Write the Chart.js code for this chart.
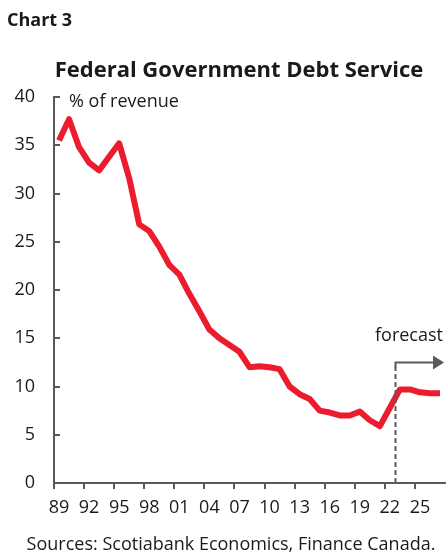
<!DOCTYPE html>
<html>
<head>
<meta charset="utf-8">
<script src="https://cdn.jsdelivr.net/npm/chart.js@4/dist/chart.umd.min.js"></script>
<style>
html,body{margin:0;padding:0;background:#fff;}
#wrap{width:448px;height:553px;position:relative;}
</style>
</head>
<body>
<div id="wrap"><canvas id="c" width="448" height="553"></canvas></div>
<script>
const years = ['1989','1990','1991','1992','1993','1994','1995','1996','1997','1998','1999','2000','2001','2002','2003','2004','2005','2006','2007','2008','2009','2010','2011','2012','2013','2014','2015','2016','2017','2018','2019','2020','2021','2022','2023','2024','2025','2026','2027'];
const debtService = [35.5,37.7,34.8,33.2,32.4,33.8,35.2,31.6,26.8,26.1,24.5,22.6,21.6,19.6,17.8,15.9,15.0,14.3,13.6,12.0,12.1,12.0,11.8,10.0,9.2,8.7,7.5,7.3,7.0,7.0,7.4,6.5,5.9,7.8,9.7,9.7,9.4,9.3,9.3];
const yTicks = [0,5,10,15,20,25,30,35,40];
const forecastStart = '2023';
const chartLabel = 'Chart 3';
const titleText = 'Federal Government Debt Service';
const unitText = '% of revenue';
const forecastText = 'forecast';
const sourceText = 'Sources: Scotiabank Economics, Finance Canada.';

const AXIS = '#5a5a5a';
const RED = '#ec1c2e';
const TXT = '#1a1a1a';
const FONT = '"Open Sans", "Noto Sans", sans-serif';

const decor = {
  id: 'decor',
  afterDraw(chart) {
    const ctx = chart.ctx;
    const xs = chart.scales.x, ys = chart.scales.y;
    const ca = chart.chartArea;
    ctx.save();
    // inward y ticks
    ctx.strokeStyle = AXIS; ctx.lineWidth = 2;
    yTicks.forEach(v => {
      const py = Math.round(ys.getPixelForValue(v));
      ctx.beginPath(); ctx.moveTo(ca.left, py); ctx.lineTo(ca.left + 6, py); ctx.stroke();
    });
    // forecast marker
    const fi = years.indexOf(forecastStart);
    const fx = Math.round((xs.getPixelForValue(fi - 1) + xs.getPixelForValue(fi)) / 2) + 0.5;
    const fy = Math.round(ys.getPixelForValue(12.5)) + 0.5;
    ctx.lineWidth = 2; ctx.strokeStyle = AXIS;
    ctx.setLineDash([5, 3]);
    ctx.beginPath(); ctx.moveTo(fx, ca.bottom); ctx.lineTo(fx, fy + 4); ctx.stroke();
    ctx.setLineDash([]);
    ctx.beginPath(); ctx.moveTo(fx, fy + 5); ctx.lineTo(fx, fy); ctx.lineTo(ca.right - 8, fy); ctx.stroke();
    ctx.fillStyle = AXIS;
    ctx.beginPath(); ctx.moveTo(ca.right - 1, fy); ctx.lineTo(ca.right - 12, fy - 7); ctx.lineTo(ca.right - 12, fy + 7); ctx.closePath(); ctx.fill();
    // texts
    ctx.fillStyle = TXT;
    ctx.textBaseline = 'alphabetic';
    ctx.textAlign = 'left';
    ctx.font = 'bold 18px ' + FONT;
    ctx.fillText(chartLabel, 7, 26);
    ctx.textAlign = 'center';
    ctx.font = 'bold 22px ' + FONT;
    ctx.fillText(titleText, 239, 77);
    ctx.textAlign = 'left';
    ctx.textBaseline = 'middle';
    ctx.font = '18px ' + FONT;
    ctx.fillText(unitText, 69, 102);
    ctx.fillText(forecastText, 375, 336);
    ctx.textAlign = 'center';
    ctx.font = '18px ' + FONT;
    ctx.fillText(sourceText, 231, 545);
    ctx.restore();
  }
};

new Chart(document.getElementById('c'), {
  type: 'line',
  data: {
    labels: years,
    datasets: [{
      data: debtService,
      borderColor: RED,
      backgroundColor: RED,
      borderWidth: 6,
      pointRadius: 0,
      tension: 0,
      borderJoinStyle: 'round',
      borderCapStyle: 'butt'
    }]
  },
  options: {
    responsive: false,
    animation: false,
    events: [],
    layout: { padding: { top: 97, left: 0, right: 0, bottom: 30 } },
    plugins: { legend: { display: false }, tooltip: { enabled: false }, title: { display: false } },
    scales: {
      x: {
        type: 'category',
        offset: true,
        grid: {
          offset: true,
          drawOnChartArea: false,
          drawTicks: true,
          tickLength: 6,
          lineWidth: 2,
          color: (c) => (c.index % 3 === 0 ? AXIS : 'rgba(0,0,0,0)')
        },
        border: { display: true, color: AXIS, width: 2 },
        ticks: {
          autoSkip: false,
          maxRotation: 0,
          minRotation: 0,
          padding: 8,
          color: TXT,
          font: { family: FONT, size: 18 },
          callback: function (v, i) { return i % 3 === 0 ? years[i].slice(2) : ''; }
        },
        afterFit: (s) => { s.height = 40; }
      },
      y: {
        min: 0, max: 40,
        afterBuildTicks: (s) => { s.ticks = yTicks.map(v => ({ value: v })); },
        grid: { drawOnChartArea: false, drawTicks: false },
        border: { display: true, color: AXIS, width: 2 },
        ticks: {
          padding: 19,
          color: TXT,
          font: { family: FONT, size: 18 }
        },
        afterFit: (s) => { s.width = 54; }
      }
    }
  },
  plugins: [decor]
});
</script>
</body>
</html>
